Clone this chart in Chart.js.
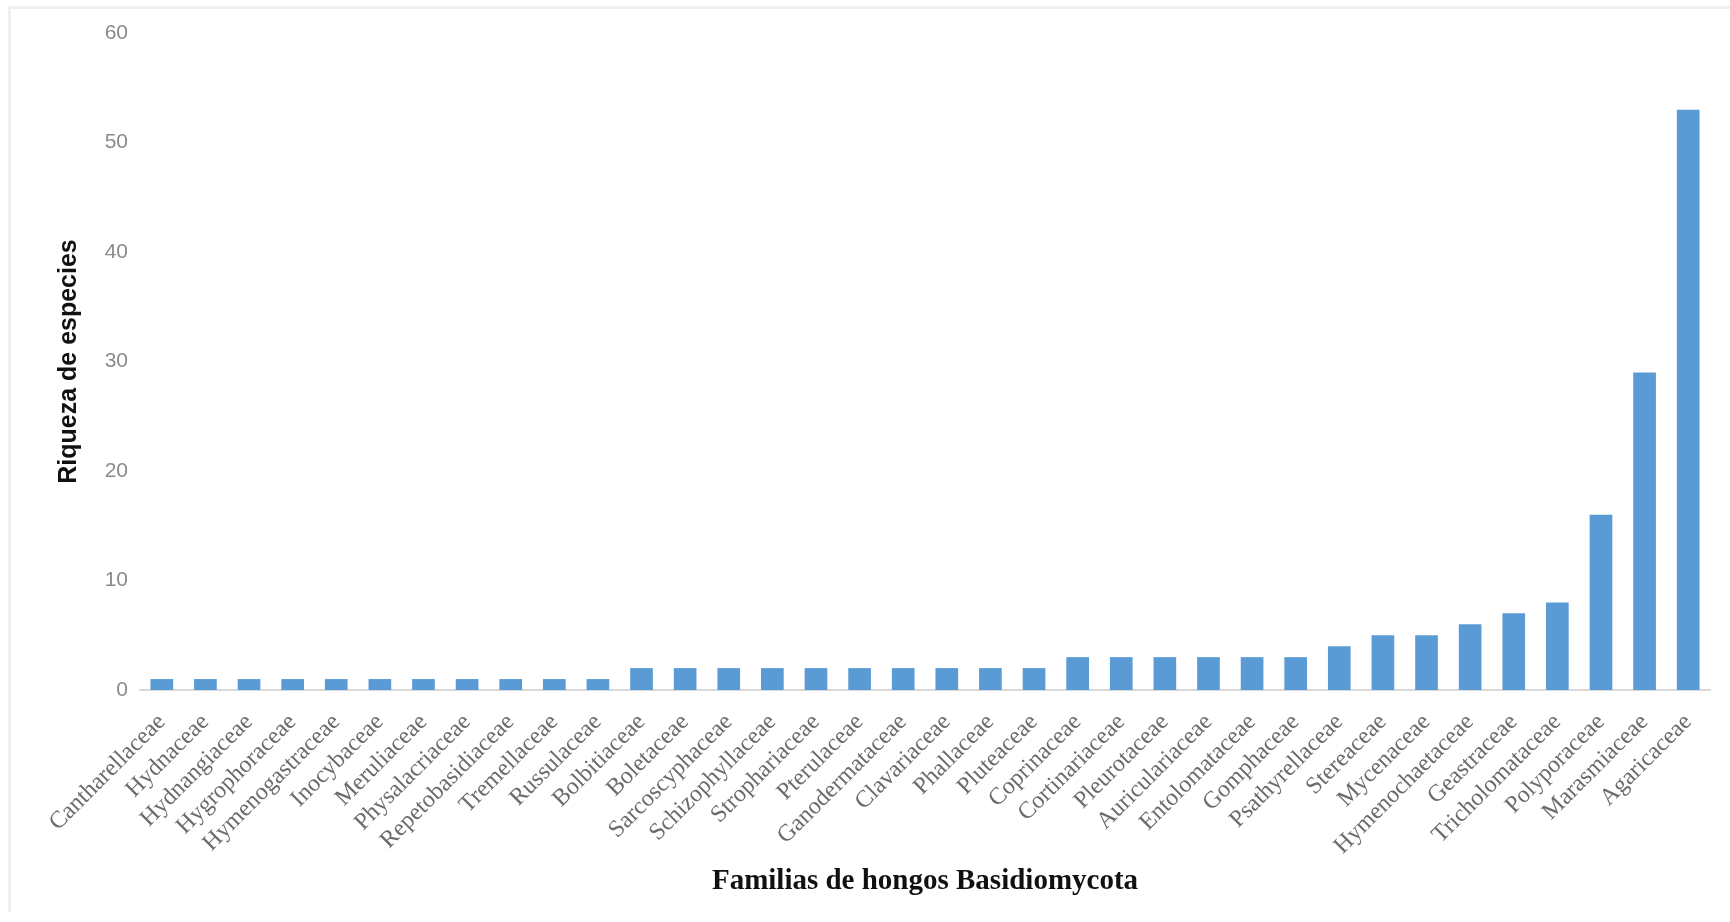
<!DOCTYPE html>
<html>
<head>
<meta charset="utf-8">
<script src="https://cdn.jsdelivr.net/npm/chart.js@4.4.1/dist/chart.umd.min.js"></script>
<style>
  html, body { margin: 0; padding: 0; background: #fff; }
  #wrap { position: relative; width: 1730px; height: 922px; }
  #frame { position: absolute; left: 8px; top: 6px; right: 0; bottom: 10px;
           border-top: 3px solid #efefef; border-left: 3px solid #efefef; }
  canvas { position: absolute; left: 0; top: 0; }
</style>
</head>
<body>
<div id="wrap">
  <div id="frame"></div>
  <canvas id="riqueza" width="1730" height="922"></canvas>
</div>
<script>
// families of Basidiomycota, sorted by species count
var familias = [
  "Cantharellaceae", "Hydnaceae", "Hydnangiaceae", "Hygrophoraceae", "Hymenogastraceae",
  "Inocybaceae", "Meruliaceae", "Physalacriaceae", "Repetobasidiaceae", "Tremellaceae",
  "Russulaceae", "Bolbitiaceae", "Boletaceae", "Sarcoscyphaceae", "Schizophyllaceae",
  "Strophariaceae", "Pterulaceae", "Ganodermataceae", "Clavariaceae", "Phallaceae",
  "Pluteaceae", "Coprinaceae", "Cortinariaceae", "Pleurotaceae", "Auriculariaceae",
  "Entolomataceae", "Gomphaceae", "Psathyrellaceae", "Stereaceae", "Mycenaceae",
  "Hymenochaetaceae", "Geastraceae", "Tricholomataceae", "Polyporaceae", "Marasmiaceae",
  "Agaricaceae"
];
var especies = [
  1, 1, 1, 1, 1, 1, 1, 1, 1, 1, 1,
  2, 2, 2, 2, 2, 2, 2, 2, 2, 2,
  3, 3, 3, 3, 3, 3,
  4, 5, 5, 6, 7, 8, 16, 29, 53
];
var yTitulo = "Riqueza de especies";
var xTitulo = "Familias de hongos Basidiomycota";

var ctx = document.getElementById("riqueza").getContext("2d");

new Chart(ctx, {
    type: "bar",
    data: {
        labels: familias,
        datasets: [
            {
                data: especies,
                backgroundColor: "#5b9bd5",
                borderWidth: 0,
                barPercentage: 0.52,
                categoryPercentage: 1.0
            }
        ]
    },
    options: {
        responsive: false,
        animation: false,
        layout: {
            padding: { left: 50, right: 20, top: 33, bottom: 19 }
        },
        plugins: {
            legend: { display: false },
            tooltip: { enabled: false }
        },
        scales: {
            x: {
                grid: { display: false },
                border: { display: true, color: "#d9d9d9", width: 2 },
                ticks: {
                    autoSkip: false,
                    minRotation: 45,
                    maxRotation: 45,
                    padding: 10,
                    color: "#6b6b6b",
                    font: { family: "Liberation Serif", size: 24 }
                },
                title: {
                    display: true,
                    text: xTitulo,
                    color: "#111",
                    font: { family: "Liberation Serif", size: 29, weight: "bold" }
                },
                afterFit: function (scale) { scale.height = 213; }
            },
            y: {
                min: 0,
                max: 60,
                grid: { display: false },
                border: { display: false },
                ticks: {
                    stepSize: 10,
                    padding: 4,
                    color: "#8a8a8a",
                    font: { family: "Liberation Sans", size: 21 }
                },
                title: {
                    display: true,
                    text: yTitulo,
                    color: "#111",
                    font: { family: "Liberation Sans", size: 25, weight: "bold" }
                },
                afterFit: function (scale) { scale.width = 90; }
            }
        }
    }
});
</script>
</body>
</html>
